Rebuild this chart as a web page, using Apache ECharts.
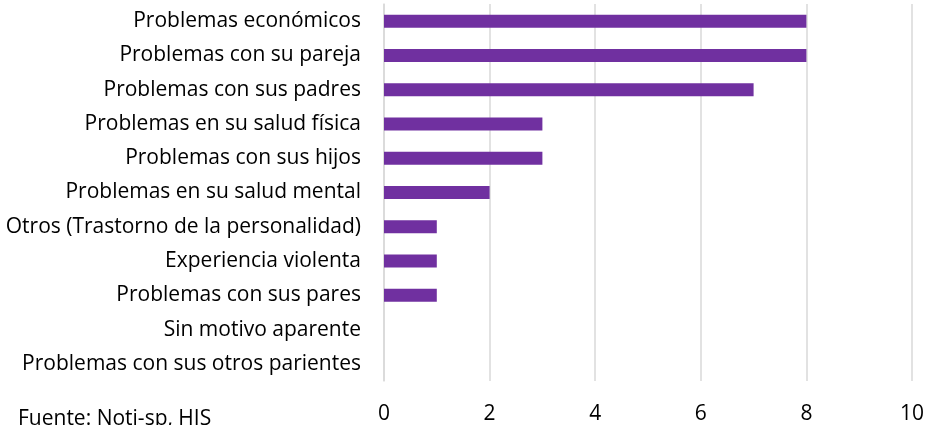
<!DOCTYPE html>
<html><head><meta charset="utf-8">
<script src="https://cdn.jsdelivr.net/npm/echarts@6/dist/echarts.min.js"></script>
<style>html,body{margin:0;padding:0;background:#fff}#c{width:927px;height:425px}</style>
</head><body><div id="c"></div>
<script>
const categories = [
  "Problemas económicos",
  "Problemas con su pareja",
  "Problemas con sus padres",
  "Problemas en su salud física",
  "Problemas con sus hijos",
  "Problemas en su salud mental",
  "Otros (Trastorno de la personalidad)",
  "Experiencia violenta",
  "Problemas con sus pares",
  "Sin motivo aparente",
  "Problemas con sus otros parientes"
];
const values = [8, 8, 7, 3, 3, 2, 1, 1, 1, 0, 0];
const sourceText = "Fuente: Noti-sp, HIS";
const FONT = "Open Sans";
const FS = 21;
const chart = echarts.init(document.getElementById('c'));
chart.setOption({
  animation: false,
  grid: {left: 384, right: 13, top: 4, bottom: 43, containLabel: false},
  xAxis: {
    type: 'value', min: 0, max: 10, interval: 2,
    axisLine: {show: false}, axisTick: {show: false},
    splitLine: {show: true, lineStyle: {color: '#d9d9d9', width: 1.5}},
    axisLabel: {color: '#000', fontFamily: FONT, fontSize: FS, margin: 23}
  },
  yAxis: {
    type: 'category', data: categories, inverse: true,
    axisLine: {show: true, lineStyle: {color: '#d9d9d9', width: 1.5}},
    axisTick: {show: false},
    axisLabel: {color: '#000', fontFamily: FONT, fontSize: FS, margin: 23}
  },
  series: [{
    type: 'bar', data: values, barWidth: 13,
    itemStyle: {color: '#7030A0'}
  }],
  graphic: [{
    type: 'text', left: 18, top: 409,
    style: {text: sourceText, fill: '#000', font: FS + 'px "' + FONT + '"'}
  }]
});
</script></body></html>
